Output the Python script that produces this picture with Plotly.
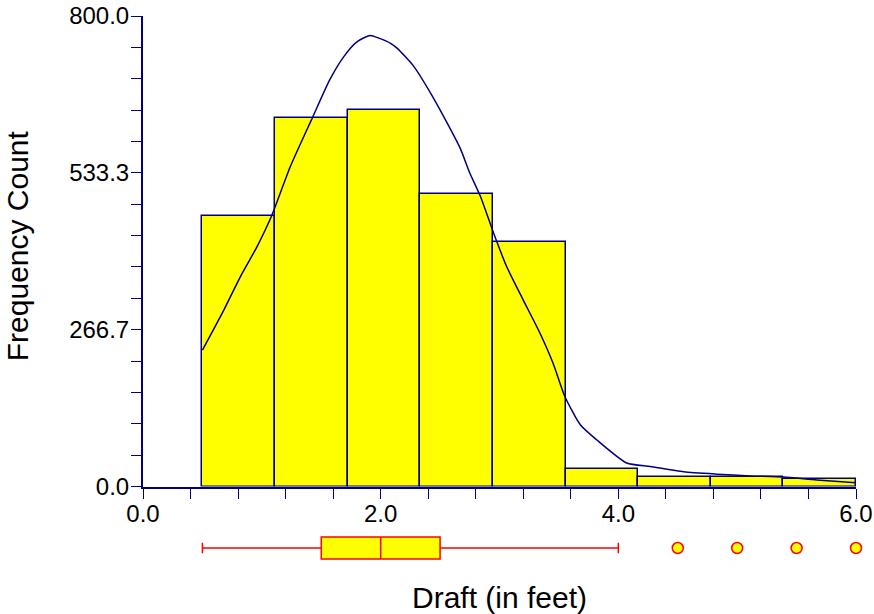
import plotly.graph_objects as go

# ---- data ----
bin_edges = [0.5, 1.111, 1.722, 2.333, 2.944, 3.556, 4.167, 4.778, 5.389, 6.0]
counts = [460, 626, 640, 497, 415, 29, 17, 16, 13]

curve_x = [0.50, 0.68, 0.82, 0.96, 1.08, 1.24, 1.43, 1.57, 1.69, 1.80, 1.91, 1.99,
           2.08, 2.14, 2.28, 2.42, 2.56, 2.67, 2.75, 2.84, 2.95, 3.06, 3.20, 3.34,
           3.45, 3.55, 3.68, 3.82, 4.07, 4.27, 4.55, 4.83, 5.11, 5.39, 5.67, 6.00]
curve_y = [232, 300, 357, 408, 459, 544, 629, 691, 731, 756, 767, 762,
           754, 745, 714, 669, 618, 575, 533, 493, 431, 374, 317, 261,
           210, 153, 105, 79, 40, 34, 25, 21, 18, 16, 11, 6.5]

box_q1 = 1.5
box_median = 2.0
box_q3 = 2.5
box_low = 0.5
box_high = 4.0
outliers = [4.5, 5.0, 5.5, 6.0]

x_tick_vals = [0.0, 0.4, 0.8, 1.2, 1.6, 2.0, 2.4, 2.8, 3.2, 3.6, 4.0, 4.4, 4.8, 5.2, 5.6, 6.0]
x_tick_labels = ["0.0", "", "", "", "", "2.0", "", "", "", "", "4.0", "", "", "", "", "6.0"]
y_tick_vals = [i * 800 / 15 for i in range(16)]
y_tick_labels = ["0.0", "", "", "", "", "266.7", "", "", "", "", "533.3", "", "", "", "", "800.0"]

x_title = "Draft (in feet)"
y_title = "Frequency Count"

NAVY = "#000080"
FONT = "Liberation Sans, Arial, sans-serif"

centers = [(bin_edges[i] + bin_edges[i + 1]) / 2 for i in range(len(counts))]
widths = [bin_edges[i + 1] - bin_edges[i] for i in range(len(counts))]

fig = go.Figure()
fig.add_trace(go.Bar(x=centers, y=counts, width=widths,
                     marker=dict(color="#ffff00", line=dict(color=NAVY, width=1.5)),
                     showlegend=False, hoverinfo="skip"))
fig.add_trace(go.Scatter(x=curve_x, y=curve_y, mode="lines",
                         line=dict(color=NAVY, width=1.5, shape="spline", smoothing=0.6),
                         showlegend=False, hoverinfo="skip"))
fig.add_trace(go.Box(y=[0], q1=[box_q1], median=[box_median], q3=[box_q3],
                     lowerfence=[box_low], upperfence=[box_high], orientation="h",
                     width=1.1, whiskerwidth=0.48, fillcolor="#ffff00",
                     line=dict(color="#ff0000", width=1.5), boxpoints=False,
                     xaxis="x2", yaxis="y2", showlegend=False, hoverinfo="skip"))
fig.add_trace(go.Scatter(x=outliers, y=[0] * len(outliers), mode="markers",
                         marker=dict(color="#ffff00", size=11, line=dict(color="#ff0000", width=1.5)),
                         xaxis="x2", yaxis="y2", cliponaxis=False, showlegend=False, hoverinfo="skip"))

axis_common = dict(showline=True, linecolor=NAVY, linewidth=2, ticks="outside",
                   tickcolor=NAVY, tickwidth=1.2, ticklen=10, showgrid=False, zeroline=False,
                   tickfont=dict(family=FONT, size=24, color="black"), tickmode="array")

fig.update_layout(
    width=874, height=614,
    margin=dict(l=143, r=18, t=16, b=0, autoexpand=False),
    paper_bgcolor="white", plot_bgcolor="white",
    bargap=0,
    xaxis=dict(range=[0, 6], domain=[0, 1], anchor="y", tickvals=x_tick_vals,
               ticktext=x_tick_labels, automargin=False, ticklabelstandoff=-5, **axis_common),
    yaxis=dict(range=[0, 800], domain=[0.2132, 1], anchor="x", tickvals=y_tick_vals,
               ticktext=y_tick_labels, automargin=False, ticklabelstandoff=-3, **axis_common),
    xaxis2=dict(matches="x", anchor="y2", visible=False, range=[0, 6]),
    yaxis2=dict(domain=[0.0769, 0.1438], range=[-1, 1], visible=False, anchor="x2"),
    annotations=[
        dict(text=x_title, xref="paper", yref="paper", x=0.5, y=0.0284,
             xanchor="center", yanchor="middle", showarrow=False,
             font=dict(family=FONT, size=30, color="black")),
        dict(text=y_title, xref="paper", yref="paper", x=-0.1767, y=0.615,
             xanchor="center", yanchor="middle", textangle=-90, showarrow=False,
             font=dict(family=FONT, size=30, color="black")),
    ],
)

fig.write_html("out.html")
